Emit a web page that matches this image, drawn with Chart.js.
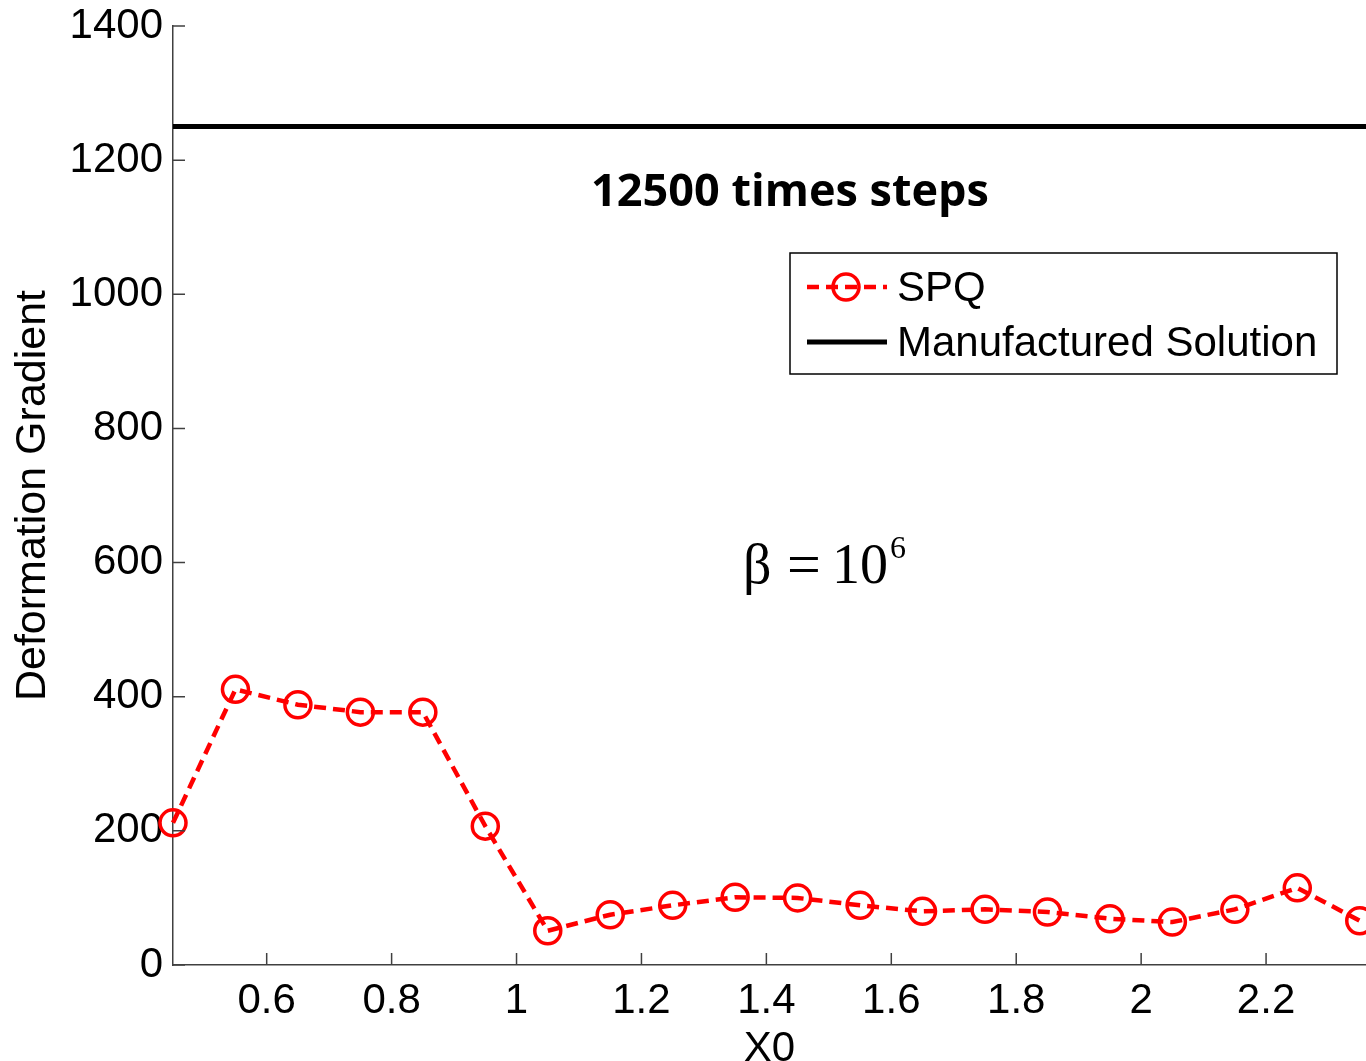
<!DOCTYPE html>
<html>
<head>
<meta charset="utf-8">
<script src="https://cdn.jsdelivr.net/npm/chart.js@4.4.0/dist/chart.umd.min.js"></script>
<style>
  html, body { margin: 0; padding: 0; background: #fff; overflow: hidden; }
  canvas { display: block; }
</style>
</head>
<body>
<canvas id="myChart" width="1366" height="1061"></canvas>
<script>
// values
const x0 = [0.45, 0.55, 0.65, 0.75, 0.85, 0.95, 1.05, 1.15, 1.25, 1.35,
            1.45, 1.55, 1.65, 1.75, 1.85, 1.95, 2.05, 2.15, 2.25, 2.35];
const spq = [212, 411, 388, 377, 377, 207, 51, 75, 89, 101,
             100, 89, 80, 83, 79, 69, 64, 83, 115, 66];
const manufactured_x = [0.45, 2.36];
const manufactured = [1250, 1250];
const x_ticks = [0.6, 0.8, 1, 1.2, 1.4, 1.6, 1.8, 2, 2.2];
const y_ticks = [0, 200, 400, 600, 800, 1000, 1200, 1400];

const sans = "'Liberation Sans', Arial, Helvetica, sans-serif";
const red = "rgb(255, 0, 0)";
const axis_color = "#404040";

// tick marks pointing into the plot, like matlab
const insideTicks = {
  id: "insideTicks",
  afterDraw(chart) {
    const ctx = chart.ctx;
    const area = chart.chartArea;
    const xs = chart.scales.x;
    const ys = chart.scales.y;
    ctx.save();
    ctx.strokeStyle = axis_color;
    ctx.lineWidth = 1.5;
    ctx.beginPath();
    xs.ticks.forEach((t) => {
      const px = xs.getPixelForValue(t.value);
      ctx.moveTo(px, area.bottom);
      ctx.lineTo(px, area.bottom - 12);
    });
    ys.ticks.forEach((t) => {
      const py = ys.getPixelForValue(t.value);
      ctx.moveTo(area.left, py);
      ctx.lineTo(area.left + 12, py);
    });
    ctx.stroke();
    ctx.restore();
  },
};

// texts inside the axes and the boxed legend
const annotations = {
  id: "annotations",
  afterDraw(chart) {
    const ctx = chart.ctx;
    ctx.save();
    ctx.fillStyle = "#000";
    ctx.textBaseline = "alphabetic";

    ctx.font = "bold 45px 'Open Sans', 'Noto Sans', sans-serif";
    ctx.textAlign = "center";
    ctx.fillText("12500 times steps", 790, 206);

    ctx.textAlign = "left";
    ctx.font = "56px 'Liberation Serif', 'Times New Roman', serif";
    ctx.fillText("\u03b2", 743, 583);
    ctx.font = "60px 'Liberation Serif', 'Times New Roman', serif";
    ctx.fillText("=", 787, 584);
    ctx.font = "56px 'Liberation Serif', 'Times New Roman', serif";
    ctx.fillText("10", 832, 583);
    ctx.font = "32px 'Liberation Serif', 'Times New Roman', serif";
    ctx.fillText("6", 890, 558);

    // legend box
    const bx = 790, by = 253, bw = 547, bh = 121;
    ctx.fillStyle = "#fff";
    ctx.fillRect(bx, by, bw, bh);
    ctx.strokeStyle = "#000";
    ctx.lineWidth = 1.5;
    ctx.strokeRect(bx, by, bw, bh);

    const rows = [287, 342];
    chart.data.datasets.forEach((ds, i) => {
      const y = rows[i];
      ctx.save();
      ctx.strokeStyle = ds.borderColor;
      ctx.lineWidth = ds.borderWidth;
      ctx.setLineDash(ds.borderDash || []);
      ctx.beginPath();
      ctx.moveTo(807, y);
      ctx.lineTo(887, y);
      ctx.stroke();
      ctx.setLineDash([]);
      if (ds.pointRadius > 0) {
        ctx.lineWidth = ds.pointBorderWidth;
        ctx.strokeStyle = ds.pointBorderColor;
        ctx.beginPath();
        ctx.arc(846, y, ds.pointRadius, 0, Math.PI * 2);
        ctx.stroke();
      }
      ctx.restore();
      ctx.fillStyle = "#000";
      ctx.font = "42px " + sans;
      ctx.textBaseline = "middle";
      ctx.fillText(ds.label, 897, y + 2);
    });
    ctx.restore();
  },
};

const ctx = document.getElementById("myChart").getContext("2d");
const myChart = new Chart(ctx, {
  type: "line",
  data: {
    datasets: [
      {
        label: "SPQ",
        data: x0.map((x, i) => ({ x: x, y: spq[i] })),
        borderColor: red,
        borderWidth: 4.5,
        borderDash: [12, 7],
        pointRadius: 13,
        pointBorderWidth: 3.5,
        pointBorderColor: red,
        pointBackgroundColor: "rgba(0,0,0,0)",
        pointHoverRadius: 13,
        tension: 0,
        clip: false,
      },
      {
        label: "Manufactured Solution",
        data: manufactured_x.map((x, i) => ({ x: x, y: manufactured[i] })),
        borderColor: "#000",
        borderWidth: 5,
        pointRadius: 0,
        tension: 0,
      },
    ],
  },
  options: {
    responsive: false,
    maintainAspectRatio: false,
    animation: false,
    events: [],
    layout: { autoPadding: false, padding: { top: 26, left: 0, right: 0, bottom: 0 } },
    plugins: {
      legend: { display: false },
      tooltip: { enabled: false },
      title: { display: false },
    },
    scales: {
      x: {
        type: "linear",
        min: 0.45,
        max: 2.36,
        afterBuildTicks: (scale) => {
          scale.ticks = x_ticks.map((v) => ({ value: v }));
        },
        afterFit: (scale) => {
          scale.height = 96;
          scale.paddingLeft = 0;
          scale.paddingRight = 0;
        },
        ticks: {
          color: "#000",
          padding: 11,
          maxRotation: 0,
          font: { family: sans, size: 42 },
          callback: (v) => String(v),
        },
        grid: { display: true, drawOnChartArea: false, drawTicks: false },
        border: { display: true, color: axis_color, width: 1.5 },
        title: {
          display: true,
          text: "X0",
          color: "#000",
          font: { family: sans, size: 42, lineHeight: 1 },
          padding: { top: 0, bottom: -9 },
        },
      },
      y: {
        type: "linear",
        min: 0,
        max: 1400,
        afterBuildTicks: (scale) => {
          scale.ticks = y_ticks.map((v) => ({ value: v }));
        },
        afterFit: (scale) => {
          scale.width = 173;
          scale.paddingTop = 0;
          scale.paddingBottom = 0;
        },
        ticks: {
          color: "#000",
          padding: 10,
          font: { family: sans, size: 42 },
          callback: (v) => String(v),
        },
        grid: { display: true, drawOnChartArea: false, drawTicks: false },
        border: { display: true, color: axis_color, width: 1.5 },
        title: {
          display: true,
          text: "Deformation Gradient",
          color: "#000",
          font: { family: sans, size: 43, lineHeight: 1.2 },
          padding: { top: 7, bottom: 0 },
        },
      },
    },
  },
  plugins: [insideTicks, annotations],
});
</script>
</body>
</html>
